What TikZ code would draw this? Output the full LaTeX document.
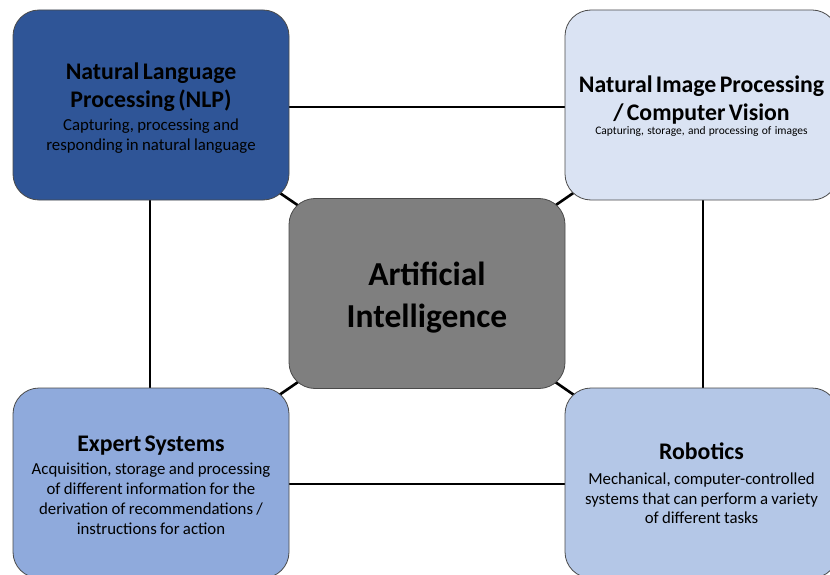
\documentclass[tikz,border=0pt]{standalone}
\usepackage{fontspec}
\setmainfont{Carlito}
\usetikzlibrary{backgrounds}
\definecolor{nlpblue}{HTML}{2F5597}
\definecolor{cvblue}{HTML}{DAE3F3}
\definecolor{aigray}{HTML}{7F7F7F}
\definecolor{esblue}{HTML}{8FAADC}
\definecolor{robblue}{HTML}{B4C7E7}
\definecolor{edge}{HTML}{4A4A4A}
% title and description lines of a box
\newcommand{\ttl}[1]{{\fontsize{23.8}{28}\selectfont\bfseries #1\par}}
\newcommand{\sub}[1]{{\fontsize{16.8}{20}\selectfont #1\par}}
\begin{document}
\begin{tikzpicture}[x=1pt,y=-1pt,
  box/.style={rounded corners=26pt, draw=edge, line width=0.8pt,
    minimum width=276pt, minimum height=190pt, inner sep=0pt},
  txt/.style={align=center, text width=272pt, inner sep=0pt, anchor=base,
    execute at begin node={\lineskiplimit=-50pt}},
  link/.style={line width=2.6pt, black}]
\useasboundingbox (0,0) rectangle (830,575);
\clip (0,0) rectangle (830,575);

% boxes
\node[box, fill=nlpblue] (nlp) at (151,105) {};
\node[box, fill=cvblue, minimum width=273pt] (cv) at (701.5,105) {};
\node[box, fill=aigray] (ai) at (427,293.5) {};
\node[box, fill=esblue] (es) at (151,483) {};
\node[box, fill=robblue, minimum width=273pt] (rob) at (701.5,483) {};

% connectors behind the boxes
\begin{scope}[on background layer]
  \draw[link] ([yshift=-2pt]nlp.center) -- ([yshift=-2pt]cv.center);
  \draw[link] ([xshift=-1pt]nlp.center) -- ([xshift=-1pt]es.center);
  \draw[link] ([xshift=1.5pt]cv.center) -- ([xshift=1.5pt]rob.center);
  \draw[link] ([yshift=-1pt]es.center) -- ([yshift=-1pt]rob.center);
  \draw[link] (nlp.center) -- (ai.center);
  \draw[link] (cv.center) -- (ai.center);
  \draw[link] (es.center) -- (ai.center);
  \draw[link] (rob.center) -- (ai.center);
\end{scope}

% texts, placed by the baseline of their first line
\node[txt] (nlptext) at (151,79.2)
  {\ttl{Natural Language\\Processing (NLP)}\vspace{3.3pt}
   \sub{Capturing, processing and\\responding in natural language}};

\node[txt] (cvtext) at (701.5,92.5)
  {\ttl{Natural Image Processing\\/ Computer Vision}\vspace{1.2pt}
   {\fontsize{11.5}{13}\selectfont Capturing, storage, and processing of images\par}};

\node[txt] (aitext) at (427,285.3)
  {{\fontsize{33.5}{41.7}\selectfont\bfseries Artificial\\Intelligence\par}};

\node[txt] (estext) at (151,451.5)
  {\ttl{Expert Systems}\vspace{3.3pt}
   \sub{Acquisition, storage and processing\\of different information for the\\derivation of recommendations /\\instructions for action}};

\node[txt] (robtext) at (701.5,459.8)
  {\ttl{Robotics}\vspace{5pt}
   {\fontsize{16.8}{19.6}\selectfont Mechanical, computer-controlled\\systems that can perform a variety\\of different tasks\par}};
\end{tikzpicture}
\end{document}
